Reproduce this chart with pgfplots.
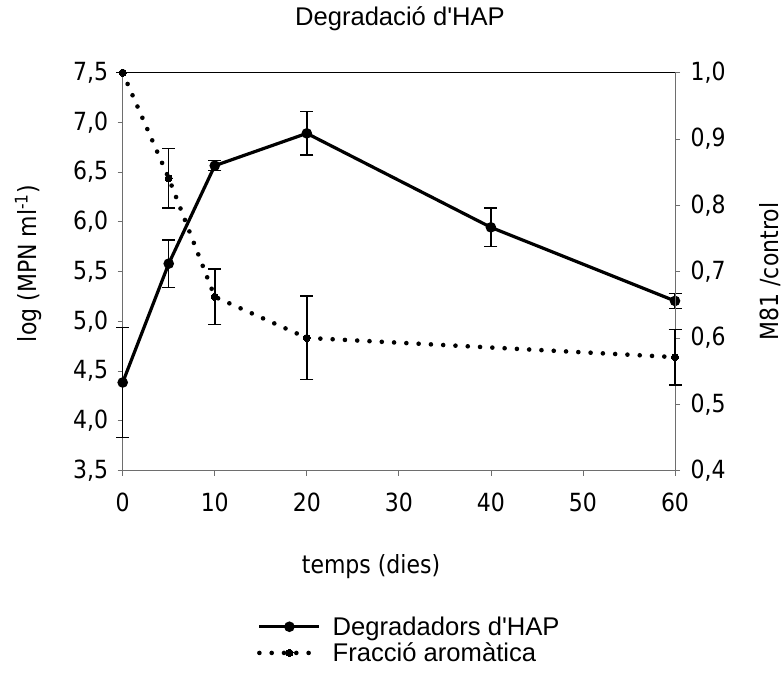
\documentclass[border=0pt]{standalone}
\usepackage{pgfplots}
\pgfplotsset{compat=1.18}
\usepackage{fontspec}
\setmainfont{DejaVu Sans}[FakeStretch=0.88]
\newfontfamily\arial{Liberation Sans}
\definecolor{axgray}{RGB}{110,110,110}
\begin{document}
\begin{tikzpicture}[x=1pt,y=1pt]
\path[use as bounding box] (0,0) rectangle (783,675);
\pgfplotsset{
  common/.style={
    scale only axis, width=552.3pt, height=397.8pt,
    at={(122.7pt,204.5pt)}, anchor=south west,
    xmin=0, xmax=60, clip=false,
    tick align=outside, major tick length=5pt,
    every tick/.style={axgray, line width=0.8pt},
    /pgf/number format/assume math mode=true,
    tick label style={font=\fontsize{25}{30}\selectfont},
    y tick label style={/pgf/number format/fixed, /pgf/number format/fixed zerofill, /pgf/number format/precision=1, /pgf/number format/use comma},
  },
}
% left axis
\begin{axis}[common,
  ymin=3.5, ymax=7.5, ytick={3.5,4,...,7.5},
  xtick={0,10,...,60},
  axis line style={axgray, line width=0.8pt},
  axis x line*=bottom, axis y line*=left,
  ylabel={log (MPN ml\textsuperscript{-1})},
  ylabel style={font=\fontsize{25}{30}\selectfont, at={(axis description cs:-0.171,0.52)}, anchor=center, rotate=0},
  xlabel={temps (dies)},
  xlabel style={font=\fontsize{25}{30}\selectfont, at={(axis description cs:0.4496,-0.241)}, anchor=center},
  title={\arial Degradació d'HAP},
  title style={font=\fontsize{25.6}{30}\selectfont, at={(axis description cs:0.502,1.12)}, anchor=center},
  yticklabel style={xshift=-6pt},
  xticklabel style={yshift=-14pt},
]
\draw[black, line width=0.8pt] (rel axis cs:0,1) -- (rel axis cs:1,1);
\addplot[black, line width=3.2pt, mark=*, mark size=3.6pt, mark options={solid},
  error bars/.cd, y dir=both, y explicit,
  error bar style={black, line width=1.5pt},
  error mark options={black, line width=1.5pt, mark size=6.5pt, rotate=90}]
  coordinates {
  (0,4.385) +- (0,0.555)
  (5,5.58) +- (0,0.24)
  (10,6.565) +- (0,0.05)
  (20,6.89) +- (0,0.22)
  (40,5.945) +- (0,0.195)
  (60,5.205) +- (0,0.074)
};
\end{axis}
% right axis
\begin{axis}[common,
  ymin=0.4, ymax=1.0, ytick={0.4,0.5,...,1.0},
  axis x line=none, axis y line*=right,
  axis line style={axgray, line width=0.8pt},
  yticklabel style={xshift=7pt},
  ylabel={M81 /control},
  ylabel style={font=\fontsize{25}{30}\selectfont, at={(axis description cs:1.172,0.5)}, anchor=center, rotate=0},
  legend style={at={(axis description cs:0.243,-0.362)}, anchor=north west, draw=none, fill=none,
    font=\arial\fontsize{25.6}{30}\selectfont, row sep=2pt, inner sep=0pt, column sep=9pt},
  legend cell align=left,
  legend image code/.code={\draw[mark repeat=2, mark phase=2, #1] plot coordinates {(0pt,0pt) (30pt,0pt) (60pt,0pt)};},
]
\addlegendimage{black, line width=3.2pt, mark=*, mark size=3.6pt, mark options={solid}}
\addlegendentry{Degradadors d'HAP}
\addplot[black, line width=4.6pt, line cap=round, dash pattern=on 0pt off 12.3pt,
  mark=*, mark size=3.6pt, mark options={solid, line width=0pt},
  error bars/.cd, y dir=both, y explicit,
  error bar style={black, line width=1.5pt, solid, line cap=butt},
  error mark options={black, line width=1.5pt, mark size=6.5pt, rotate=90}]
  coordinates {
  (0,1.0) +- (0,0)
  (5,0.841) +- (0,0.045)
  (10,0.662) +- (0,0.042)
  (20,0.600) +- (0,0.063)
  (60,0.571) +- (0,0.042)
};
\addlegendentry{Fracció aromàtica}
\end{axis}
\end{tikzpicture}
\end{document}
